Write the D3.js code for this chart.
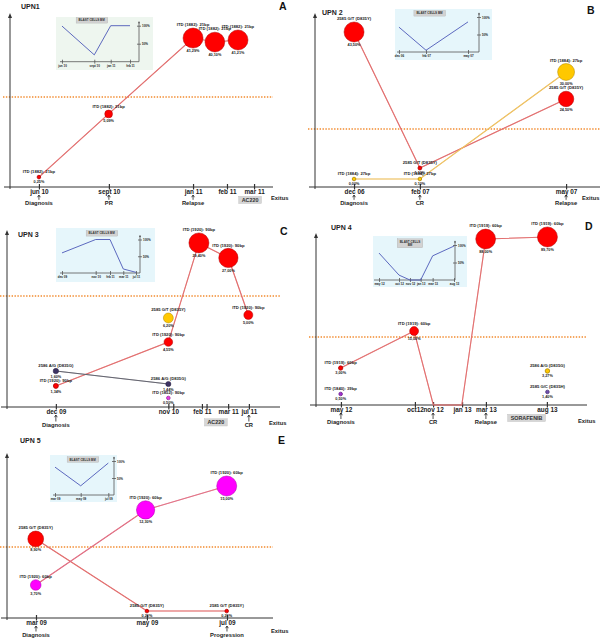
<!DOCTYPE html>
<html><head><meta charset="utf-8">
<script src="https://cdn.jsdelivr.net/npm/d3@7"></script>
<style>
body{margin:0;background:#fff}
svg{display:block;font-family:"Liberation Sans",Arial,sans-serif;font-weight:bold}
</style>
</head><body>
<svg id="c" width="600" height="642"></svg>
<script>
// ================= DATA =================
// timeline positions ("pos") are on a 0-100 schematic time axis, "level" on a 0-100 schematic height axis
// ---- UPN1 (A)
const upn1Ticks = ["jun 10","sept 10","jan 11","feb 11","mar 11"];
const upn1TickPos = [11.0,37.6,69.6,82.5,92.8];
const upn1Events = [["Diagnosis",11.0],["PR",37.6],["Relapse",69.6]];
const upn1Drug = ["AC220",91.3];
const upn1Threshold = 51.7;
const upn1Series = [
  {name:"ITD (1882): 21bp", pos:[11.0,37.5,69.6,77.9,86.7], level:[5.7,42.0,85.6,83.3,84.5], pct:[0.25,5.09,41.29,40.10,41.21]}
];
const upn1BlastTicks = ["jun 10","sept 10","jan 11","feb 11"];
const upn1BlastPos = [2.5,43.4,64.2,88.6];
const upn1Blast = [99,19,100,100];

// ---- UPN 2 (B)
const upn2Ticks = ["dec 06","feb 07","may 07"];
const upn2TickPos = [13.7,36.8,88.1];
const upn2Events = [["Diagnosis",13.7],["CR",36.8],["Relapse",88.1]];
const upn2Drug = null;
const upn2Threshold = 33.3;
const upn2Series = [
  {name:"2585 G/T (D835Y)", pos:[13.7,36.8,88.1], level:[89.1,10.9,50.6], pct:[43.50,1.10,24.50]},
  {name:"ITD (1884): 27bp", pos:[13.7,36.8,88.1], level:[4.6,4.6,66.1], pct:[0.00,0.10,30.00]}
];
const upn2BlastTicks = ["dec 06","feb 07","may 07"];
const upn2BlastPos = [2.4,35.4,86.6];
const upn2Blast = [71,5,86];

// ---- UPN 3 (C)
const upn3Ticks = ["dec 09","nov 10","","feb 11","","mar 11","jul 11"];
const upn3TickPos = [17.9,59.1,60.9,71.4,73.1,81.0,88.6];
const upn3Events = [["Diagnosis",17.9],["CR",88.6]];
const upn3Drug = ["AC220",76.5];
const upn3Threshold = 62.7;
const upn3Series = [
  {name:"ITD (1920): 90bp", pos:[17.9,59.1,70.3,81.1,88.4], level:[11.9,36.7,92.7,84.2,52.0], pct:[1.34,4.55,29.40,27.00,5.00]},
  {name:"2586 A/G (D835G)", pos:[17.9,59.1], level:[20.3,13.0], pct:[1.60,1.44]},
  {name:"2585 G/T (D835Y)", pos:[59.1], level:[50.3], pct:[6.20]},
  {name:"ITD (1852): 90bp", pos:[59.1], level:[5.1], pct:[0.50]}
];
const upn3BlastTicks = ["dec 09","nov 10","feb 11","mar 11","jul 11"];
const upn3BlastPos = [2.5,44.6,62.5,79.1,95];
const upn3Blast = [60,100,100,12,2];

// ---- UPN 4 (D)
const upn4Ticks = ["may 12","oct12","nov 12","jan 13","mar 13","aug 13"];
const upn4TickPos = [9.2,36.5,43.2,53.9,62.7,85.2];
const upn4Events = [["Diagnosis",9.2],["CR",43.2],["Relapse",62.7]];
const upn4Drug = ["SORAFENIB",77.7];
const upn4Threshold = 39.5;
const upn4Series = [
  {name:"ITD (1919): 60bp", pos:[9.1,36.2,43.3,53.8,62.6,85.4], level:[21.5,43.0,0,0,96.5,97.7], pct:[3.00,15.00,null,null,88.00,89.70]},
  {name:"ITD (1840): 39bp", pos:[9.1], level:[6.4], pct:[0.50]},
  {name:"2586 A/G (D835G)", pos:[85.4], level:[19.8], pct:[3.27]},
  {name:"2585 G/C (D835H)", pos:[85.4], level:[7.6], pct:[1.40]}
];
const upn4BlastTicks = ["may 12","oct 12","nov 12","jan 13","mar 13","aug 13"];
const upn4BlastPos = [6.2,30.9,44.4,57.6,72.4,98.8];
const upn4Blast = [77,14,0,0,69,97];

// ---- UPN 5 (E)
const upn5Ticks = ["mar 09","may 09","jul 09"];
const upn5TickPos = [10.9,52.6,82.7];
const upn5Events = [["Diagnosis",10.9],["Progression",82.7]];
const upn5Drug = null;
const upn5Threshold = 43.0;
const upn5Series = [
  {name:"2585 G/T (D835Y)", pos:[10.8,52.6,82.6], level:[47.9,4.2,4.2], pct:[8.90,0.20,0.20]},
  {name:"ITD (1920): 60bp", pos:[10.8,52.1,82.6], level:[20.0,65.5,80.0], pct:[3.70,12.30,15.00]}
];
const upn5BlastTicks = ["mar 09","may 09","jul 09"];
const upn5BlastPos = [3.3,45.4,90.7];
const upn5Blast = [82,27,94];

// ================= LAYOUT & STYLE =================
const lineStyles = {
  red:{outer:"#d94848", inner:"#f6c2c2"},
  yellow:{outer:"#e8b040", inner:"#fdeab0"},
  gray:{outer:"#4a4a55", inner:"#9a9aa4"},
  pink:{outer:"#d84a64", inner:"#f6c2cc"}
};
const panels = [
  {letter:"A", title:"UPN1", titleXY:[21,8.5], letterXY:[279,9.5], ax:10, axEnd:273, bottom:187, top:13, exitus:[271,12.5], drugDy:13, evDy:17.8,
   styles:[{fill:"#ff0000",line:"red"}],
   data:{ticks:upn1Ticks,tickPos:upn1TickPos,events:upn1Events,drug:upn1Drug,threshold:upn1Threshold,series:upn1Series,bt:upn1BlastTicks,bp:upn1BlastPos,bv:upn1Blast},
   inset:{bg:[56,17,97,53], fill:"#eef6ef", x0:60, x1:139, y0:61.7, y100:25.7, box:[91.7,20.3], lines:["BLAST CELLS BM"]}},
  {letter:"B", title:"UPN 2", titleXY:[322,15], letterXY:[587,14], ax:315, axEnd:600, bottom:187, top:13, exitus:[582,12.5], drugDy:13, evDy:17.8,
   styles:[{fill:"#ff0000",line:"red"},{fill:"#ffc800",line:"yellow"}],
   data:{ticks:upn2Ticks,tickPos:upn2TickPos,events:upn2Events,drug:upn2Drug,threshold:upn2Threshold,series:upn2Series,bt:upn2BlastTicks,bp:upn2BlastPos,bv:upn2Blast},
   inset:{bg:[395,9,97,51], fill:"#e6f6fb", x0:397, x1:479, y0:52, y100:17, box:[429.5,13.3], lines:["BLAST CELLS BM"]}},
  {letter:"C", title:"UPN 3", titleXY:[18,236.5], letterXY:[280,235], ax:7, axEnd:280, bottom:407, top:230, exitus:[269,17.5], drugDy:15.5, evDy:19.5,
   styles:[{fill:"#ff0000",line:"red"},{fill:"#3d3363",line:"gray"},{fill:"#ffc800"},{fill:"#e83ce8"}],
   data:{ticks:upn3Ticks,tickPos:upn3TickPos,events:upn3Events,drug:upn3Drug,threshold:upn3Threshold,series:upn3Series,bt:upn3BlastTicks,bp:upn3BlastPos,bv:upn3Blast},
   inset:{bg:[56,228,99,54], fill:"#e6f6fb", x0:60, x1:140, y0:273, y100:239.5, box:[101.7,233.3], lines:["BLAST CELLS BM"]}},
  {letter:"D", title:"UPN 4", titleXY:[331,230], letterXY:[585,229.5], ax:316, axEnd:587, bottom:405, top:233, exitus:[578,18], drugDy:13, evDy:19,
   styles:[{fill:"#ff0000",line:"red"},{fill:"#a030d0"},{fill:"#ffc800"},{fill:"#7050b0"}],
   data:{ticks:upn4Ticks,tickPos:upn4TickPos,events:upn4Events,drug:upn4Drug,threshold:upn4Threshold,series:upn4Series,bt:upn4BlastTicks,bp:upn4BlastPos,bv:upn4Blast},
   inset:{bg:[373,236,94,51], fill:"#e6f6fb", x0:374, x1:455, y0:280, y100:245, box:[410,243.3], lines:["BLAST CELLS","BM"]}},
  {letter:"E", title:"UPN 5", titleXY:[20,443], letterXY:[278,443.5], ax:7, axEnd:273, bottom:618, top:453, exitus:[271,15], drugDy:13, evDy:18.5,
   styles:[{fill:"#ff0000",line:"red"},{fill:"#ff00ff",line:"pink"}],
   data:{ticks:upn5Ticks,tickPos:upn5TickPos,events:upn5Events,drug:upn5Drug,threshold:upn5Threshold,series:upn5Series,bt:upn5BlastTicks,bp:upn5BlastPos,bv:upn5Blast},
   inset:{bg:[50,455,67,47], fill:"#e6f6fb", x0:53, x1:114, y0:495, y100:461, box:[82.7,459.5], lines:["BLAST CELLS BM"]}}
];

const svg = d3.select("#c");
const loc = d3.formatLocale({decimal:",", thousands:".", grouping:[3], currency:["","€"]});
const f2 = loc.format(".2f");
const fmtPct = v => f2(v) + "%";
const INK = "#222";

function tidyAxis(g, up, down, fs, ty, col) {
  g.attr("font-size", null).attr("font-family", null);
  g.select(".domain").remove();
  g.selectAll(".tick line").attr("y1", -up).attr("y2", down).attr("stroke", col);
  g.selectAll(".tick text").attr("y", ty).attr("dy", null).attr("fill", INK).style("font-size", fs + "px");
}

function drawInset(g, I, ticks, pos, vals) {
  g.append("rect").attr("x", I.bg[0]).attr("y", I.bg[1]).attr("width", I.bg[2]).attr("height", I.bg[3]).attr("fill", I.fill);
  const xi = d3.scaleLinear().domain([0,100]).range([I.x0, I.x1]);
  const yi = d3.scaleLinear().domain([0,100]).range([I.y0, I.y100]);
  g.append("line").attr("x1", I.x0).attr("x2", I.x1).attr("y1", I.y0).attr("y2", I.y0).attr("stroke", "#555").attr("stroke-width", 0.8);
  const gx = g.append("g").attr("transform", `translate(0,${I.y0})`)
    .call(d3.axisBottom(xi).tickValues(pos).tickFormat((d,i)=>ticks[i]));
  tidyAxis(gx, 2, 2, 3, 5.2, "#555");
  gx.selectAll(".tick line").attr("stroke-width", 0.8);
  g.append("line").attr("x1", I.x1).attr("x2", I.x1).attr("y1", I.y0).attr("y2", I.y100 - 4).attr("stroke", "#555").attr("stroke-width", 0.8);
  g.append("path").attr("d", `M${I.x1-1},${I.y100-2.5}L${I.x1},${I.y100-4.5}L${I.x1+1},${I.y100-2.5}Z`).attr("fill", "#555");
  const gy = g.append("g").attr("transform", `translate(${I.x1},0)`)
    .call(d3.axisRight(yi).tickValues([50,100]).tickFormat(d => d + "%"));
  gy.attr("font-size", null).attr("font-family", null);
  gy.select(".domain").remove();
  gy.selectAll(".tick line").attr("x1", -2).attr("x2", 2).attr("stroke", "#555").attr("stroke-width", 0.8);
  gy.selectAll(".tick text").attr("x", 3).attr("dy", "0.35em").attr("fill", INK).style("font-size", "3px");
  const line = d3.line().x((d,i)=>xi(pos[i])).y(d=>yi(d));
  g.append("path").attr("d", line(vals)).attr("fill", "none").attr("stroke", "#4c58b8").attr("stroke-width", 0.9);
  const lb = g.append("g");
  const t = lb.append("text").attr("text-anchor", "middle").attr("fill", "#333").style("font-size", "3px");
  const lh = 3.4;
  I.lines.forEach((s, i) => {
    t.append("tspan").attr("x", I.box[0]).attr("y", I.box[1] + 1 + (i - (I.lines.length - 1) / 2) * lh).text(s);
  });
  const bb = t.node().getBBox();
  lb.insert("rect", "text").attr("x", bb.x - 2.5).attr("y", bb.y - 0.8).attr("width", bb.width + 5).attr("height", bb.height + 1.6)
    .attr("fill", "#d2d2d2").attr("stroke", "#a8a8a8").attr("stroke-width", 0.3);
}

function drawPanel(P) {
  const D = P.data;
  const g = svg.append("g");
  const x = d3.scaleLinear().domain([0,100]).range([P.ax, P.axEnd]);
  const y = d3.scaleLinear().domain([0,100]).range([P.bottom, P.top]);

  drawInset(g, P.inset, D.bt, D.bp, D.bv);

  g.append("line").attr("x1", P.ax - 7).attr("x2", P.axEnd).attr("y1", y(D.threshold)).attr("y2", y(D.threshold))
    .attr("stroke", "#f28a2e").attr("stroke-width", 1.5).attr("stroke-dasharray", "1.4,1.5");

  g.append("line").attr("x1", P.ax - 6).attr("x2", P.axEnd).attr("y1", P.bottom).attr("y2", P.bottom).attr("stroke", "#333").attr("stroke-width", 1);
  g.append("line").attr("x1", P.ax).attr("x2", P.ax).attr("y1", P.bottom + 2).attr("y2", P.top + 3).attr("stroke", "#333").attr("stroke-width", 1);
  g.append("path").attr("d", `M${P.ax-2},${P.top+5}L${P.ax},${P.top}L${P.ax+2},${P.top+5}Z`).attr("fill", "#333");

  const gx = g.append("g").attr("transform", `translate(0,${P.bottom})`)
    .call(d3.axisBottom(x).tickValues(D.tickPos).tickFormat((d,i)=>D.ticks[i]));
  tidyAxis(gx, 3, 2.5, 6.4, 6.6, "#333");
  gx.selectAll(".tick line").attr("stroke-width", 1.2);

  D.events.forEach(([label, t]) => {
    const ex = x(t), b = P.bottom;
    g.append("path").attr("d", `M${ex},${b + P.evDy - 5}V${b + 8.2}M${ex-1.4},${b + 10.2}L${ex},${b + 8}L${ex+1.4},${b + 10.2}`)
      .attr("stroke", INK).attr("stroke-width", 0.8).attr("fill", "none");
    g.append("text").attr("x", ex).attr("y", b + P.evDy).attr("text-anchor", "middle").attr("fill", INK).style("font-size", "5.8px").text(label);
  });
  if (D.drug) {
    const dg = g.append("g");
    const tt = dg.append("text").attr("x", x(D.drug[1])).attr("y", P.bottom + P.drugDy + 1.9).attr("text-anchor", "middle")
      .attr("fill", "#333").style("font-size", "5.4px").text(D.drug[0]);
    const bb = tt.node().getBBox();
    dg.insert("rect", "text").attr("x", bb.x - 3).attr("y", bb.y - 0.6).attr("width", bb.width + 6).attr("height", bb.height + 1.2)
      .attr("fill", "#d6d6d6").attr("stroke", "#bdbdbd").attr("stroke-width", 0.4);
  }
  g.append("text").attr("x", P.exitus[0]).attr("y", P.bottom + P.exitus[1]).attr("fill", INK).style("font-size", "5.8px").text("Exitus");

  g.append("text").attr("x", P.titleXY[0]).attr("y", P.titleXY[1]).attr("fill", INK).style("font-size", "7px").text(P.title);
  g.append("text").attr("x", P.letterXY[0]).attr("y", P.letterXY[1]).attr("fill", "#111").style("font-size", "10.5px").text(P.letter);

  const maxPct = d3.max(D.series, s => d3.max(s.pct));
  const rs = d3.scalePow().exponent(0.45).domain([0, maxPct]).range([0, 10]);
  const rad = p => Math.max(1.8, rs(p));
  const ptsAll = D.series.map(s => s.pos.map((p, i) => ({x: x(p), y: y(s.level[i]), pct: s.pct[i], name: s.name})));
  D.series.forEach((s, si) => {
    const st = P.styles[si];
    const pts = ptsAll[si];
    if (pts.length > 1 && st.line) {
      const ls = lineStyles[st.line];
      const ln = d3.line().x(d => d.x).y(d => d.y);
      g.append("path").attr("d", ln(pts)).attr("fill", "none").attr("stroke", ls.outer).attr("stroke-width", 1.1);
      g.append("path").attr("d", ln(pts)).attr("fill", "none").attr("stroke", ls.inner).attr("stroke-width", 0.35);
    }
  });
  D.series.forEach((s, si) => {
    const st = P.styles[si];
    ptsAll[si].filter(d => d.pct !== null).forEach(d => {
      const r = rad(d.pct);
      g.append("circle").attr("cx", d.x).attr("cy", d.y).attr("r", r)
        .attr("fill", st.fill).attr("stroke", d3.color(st.fill).darker(1.1)).attr("stroke-width", r < 2.5 ? 0.8 : 0.5);
    });
  });
  D.series.forEach((s, si) => {
    ptsAll[si].filter(d => d.pct !== null).forEach(d => {
      const r = rad(d.pct);
      g.append("text").attr("x", d.x).attr("y", d.y - r - 1.8).attr("text-anchor", "middle").attr("fill", INK)
        .style("font-size", "4.2px").text(d.name);
      g.append("text").attr("x", d.x).attr("y", d.y + r + 4.2).attr("text-anchor", "middle").attr("fill", INK)
        .style("font-size", "3.8px").text(fmtPct(d.pct));
    });
  });
}

panels.forEach(drawPanel);
</script>
</body></html>
